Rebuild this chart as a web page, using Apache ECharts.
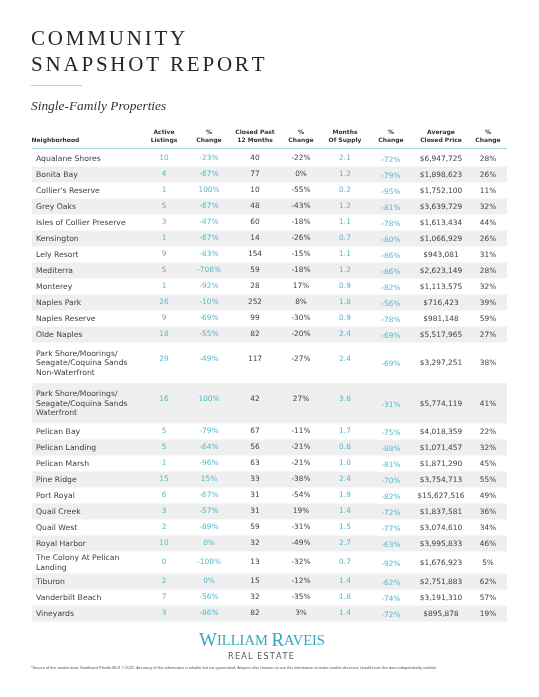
<!DOCTYPE html>
<html>
<head>
<meta charset="utf-8">
<script src="https://cdn.jsdelivr.net/npm/echarts@6/dist/echarts.min.js"></script>
<style>
html,body{margin:0;padding:0;background:#fff;}
#chart{width:539px;height:697px;}
</style>
</head>
<body>
<div id="chart"></div>
<script>
// ---------- DATA ----------
const neighborhoods = [
  "Aqualane Shores", "Bonita Bay", "Collier's Reserve", "Grey Oaks", "Isles of Collier Preserve",
  "Kensington", "Lely Resort", "Mediterra", "Monterey", "Naples Park", "Naples Reserve", "Olde Naples",
  "Park Shore/Moorings/\nSeagate/Coquina Sands\nNon-Waterfront",
  "Park Shore/Moorings/\nSeagate/Coquina Sands\nWaterfront",
  "Pelican Bay", "Pelican Landing", "Pelican Marsh", "Pine Ridge", "Port Royal", "Quail Creek",
  "Quail West", "Royal Harbor", "The Colony At Pelican\nLanding", "Tiburon", "Vanderbilt Beach", "Vineyards"
];
const activeListings = [10, 4, 1, 5, 3, 1, 9, 5, 1, 26, 9, 18, 29, 16, 5, 5, 1, 15, 6, 3, 2, 10, 0, 2, 7, 3];
const activeChange   = [-23, -67, 100, -67, -47, -67, -83, -706, -92, -10, -69, -55, -49, 100, -79, -64, -96, 15, -67, -57, -89, 0, -100, 0, -56, -86];
const closedPast12   = [40, 77, 10, 48, 60, 14, 154, 59, 28, 252, 99, 82, 117, 42, 67, 56, 63, 33, 31, 31, 59, 32, 13, 15, 32, 82];
const closedChange   = [-22, 0, -55, -43, -18, -26, -15, -18, 17, 8, -30, -20, -27, 27, -11, -21, -21, -38, -54, 19, -31, -49, -32, -12, -35, 3];
const monthsSupply   = [2.1, 1.2, 0.2, 1.2, 1.1, 0.7, 1.1, 1.2, 0.9, 1.8, 0.9, 2.4, 2.4, 3.8, 1.7, 0.8, 1.0, 2.4, 1.9, 1.4, 1.5, 2.7, 0.7, 1.4, 1.8, 1.4];
const supplyChange   = [-72, -79, -95, -81, -78, -80, -86, -86, -82, -56, -78, -69, -69, -31, -75, -88, -81, -70, -82, -72, -77, -63, -92, -62, -74, -72];
const avgClosedPrice = [6947725, 1898623, 1752100, 3639729, 1613434, 1066929, 943081, 2623149, 1113575, 716423, 981148, 5517965, 3297251, 5774119, 4018359, 1071457, 1871290, 3754713, 15627516, 1837581, 3074610, 3995833, 1676923, 2751883, 3191310, 895878];
const priceChange    = [28, 26, 11, 32, 44, 26, 31, 28, 32, 39, 59, 27, 38, 41, 22, 32, 45, 55, 49, 36, 34, 46, 5, 62, 57, 19];
const headerLabels = ["Active\nListings", "%\nChange", "Closed Past\n12 Months", "%\nChange", "Months\nOf Supply", "%\nChange", "Average\nClosed Price", "%\nChange"];

// ---------- STYLE / LAYOUT ----------
const TEAL = '#55b8c8';
const DARK = '#404040';
const SHADE = '#efefef';
const SANS = '"DejaVu Sans", sans-serif';
const SERIF = '"Liberation Serif", serif';
const pct = v => v + '%';
const money = v => '$' + v.toLocaleString('en-US');
const columns = [
  { vals: activeListings, x: 164, color: TEAL, fmt: v => String(v), lift: true },
  { vals: activeChange,   x: 209, color: TEAL, fmt: pct, lift: true },
  { vals: closedPast12,   x: 255, color: DARK, fmt: v => String(v), lift: true },
  { vals: closedChange,   x: 301, color: DARK, fmt: pct, lift: true },
  { vals: monthsSupply,   x: 345, color: TEAL, fmt: v => v.toFixed(1), lift: true },
  { vals: supplyChange,   x: 391, color: TEAL, fmt: pct, dy: 1.5 },
  { vals: avgClosedPrice, x: 441, color: DARK, fmt: money, dy: 0.5 },
  { vals: priceChange,    x: 488, color: DARK, fmt: pct, dy: 0.5 }
];
const rowH = lines => lines === 1 ? 16 : lines === 2 ? 22 : 40.5;
let acc = 0;
const rowData = neighborhoods.map((n, i) => {
  const lines = n.split('\n').length;
  const s = acc; acc += rowH(lines);
  return [i, s, acc, lines];
});
const TOTAL = acc;
const TABLE_TOP = 150.5;

// letter-spaced text helper
const mctx = document.createElement('canvas').getContext('2d');
function spaced(text, x, y, size, family, spacing, color, align, weight) {
  mctx.font = (weight || 'normal') + ' ' + size + 'px ' + family;
  const widths = [...text].map(c => mctx.measureText(c).width);
  const total = widths.reduce((a, b) => a + b, 0) + spacing * (widths.length - 1);
  let cx = align === 'center' ? x - total / 2 : x;
  const els = [];
  [...text].forEach((c, k) => {
    els.push({ type: 'text', style: { text: c, x: cx, y: y, fill: color, fontSize: size, fontFamily: family, fontWeight: weight || 'normal', align: 'left', verticalAlign: 'middle' } });
    cx += widths[k] + spacing;
  });
  return els;
}

const graphics = [];
spaced('COMMUNITY', 31, 39.8, 21, SERIF, 2.8, '#262626', 'left').forEach(e => graphics.push(e));
spaced('SNAPSHOT REPORT', 31, 65.2, 21, SERIF, 2.8, '#262626', 'left').forEach(e => graphics.push(e));
graphics.push({ type: 'line', shape: { x1: 31, y1: 85.5, x2: 82, y2: 85.5 }, style: { stroke: '#a6d4dc', lineWidth: 1 } });
graphics.push({ type: 'text', style: { text: 'Single-Family Properties', x: 31, y: 106, fill: '#333', fontSize: 13.4, fontFamily: SERIF, fontStyle: 'italic', verticalAlign: 'middle' } });
// header
graphics.push({ type: 'text', style: { text: 'Neighborhood', x: 31.5, y: 140, fill: '#333', fontSize: 6, fontWeight: 'bold', fontFamily: SANS, verticalAlign: 'middle' } });
headerLabels.forEach((h, k) => {
  graphics.push({ type: 'text', style: { text: h, x: columns[k].x, y: 136, fill: '#333', fontSize: 6, fontWeight: 'bold', fontFamily: SANS, align: 'center', verticalAlign: 'middle', lineHeight: 8 } });
});
graphics.push({ type: 'line', shape: { x1: 32, y1: 148.5, x2: 507, y2: 148.5 }, style: { stroke: '#a6d4dc', lineWidth: 1 } });
// footer
graphics.push({ type: 'text', style: { text: '{a|W}{b|ILLIAM }{a|R}{b|AVEIS}', x: 262, y: 641, align: 'center', verticalAlign: 'middle',
  rich: { a: { fontSize: 19, fontFamily: SERIF, fill: '#34a7ba' }, b: { fontSize: 14.5, fontFamily: SERIF, fill: '#34a7ba' } } } });
spaced('REAL ESTATE', 261, 657, 8.2, SANS, 1.1, '#555', 'center').forEach(e => graphics.push(e));
graphics.push({ type: 'text', style: { text: '*Source of this market data: Southwest Florida MLS \u00A9 2022. Accuracy of this information is reliable but not guaranteed. Anyone who chooses to use this information to make market decisions should have this data independently verified.',
  x: 31, y: 667.5, fill: '#555', fontSize: 3.9, fontFamily: '"Liberation Sans", sans-serif', verticalAlign: 'middle' } });

const chart = echarts.init(document.getElementById('chart'), null, { renderer: 'canvas' });
chart.setOption({
  animation: false,
  backgroundColor: '#fff',
  grid: { left: 0, right: 0, top: TABLE_TOP, height: TOTAL },
  xAxis: { type: 'value', min: 0, max: 539, show: false },
  yAxis: { type: 'value', min: 0, max: TOTAL, inverse: true, show: false },
  graphic: graphics,
  series: [{
    type: 'custom',
    clip: false,
    data: rowData,
    renderItem: function (params, api) {
      const i = api.value(0);
      const top = api.coord([0, api.value(1)])[1];
      const bot = api.coord([0, api.value(2)])[1];
      const lines = api.value(3);
      const mid = (top + bot) / 2;
      const children = [];
      if (i % 2 === 1) {
        children.push({ type: 'rect', shape: { x: 32, y: top, width: 475, height: bot - top }, style: { fill: SHADE } });
      }
      children.push({ type: 'text', style: { text: neighborhoods[i], x: 36, y: mid + 0.5, fill: DARK, fontSize: 7.7, fontFamily: SANS, verticalAlign: 'middle', lineHeight: 9.6 } });
      columns.forEach(c => {
        let dy = c.dy || 0;
        if (lines === 3 && c.lift) dy -= 4;
        children.push({ type: 'text', style: { text: c.fmt(c.vals[i]), x: c.x, y: mid + dy, fill: c.color, fontSize: 7.4, fontFamily: SANS, align: 'center', verticalAlign: 'middle' } });
      });
      return { type: 'group', children: children };
    }
  }]
});
</script>
</body>
</html>
